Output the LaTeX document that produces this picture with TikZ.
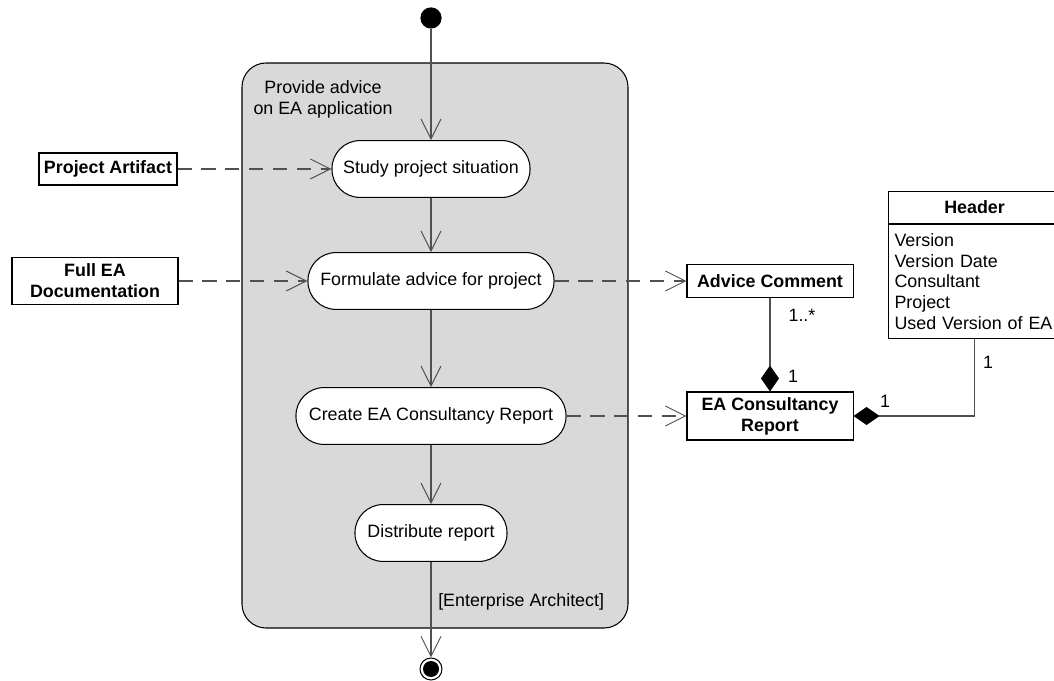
\documentclass[tikz,border=0pt]{standalone}
\usepackage{fontspec}
\setmainfont{Liberation Sans}
\usetikzlibrary{arrows.meta}
\definecolor{regiongray}{RGB}{217,217,217}
\definecolor{linegray}{RGB}{80,80,80}
\tikzset{
  txt/.style={font=\fontsize{12.7}{15}\selectfont},
  action/.style={txt, draw, line width=0.75pt, fill=white, rounded corners=0.7cm, minimum height=1.42cm, inner sep=0pt},
  object/.style={draw, line width=0.75pt, fill=white, font=\fontsize{12.7}{15}\selectfont\bfseries, align=center, inner sep=0pt},
  initial/.style={circle, fill=black, minimum size=0.53cm, inner sep=0pt},
  final/.style={circle, draw, line width=0.75pt, fill=white, minimum size=0.55cm, inner sep=0pt,
    path picture={\fill[black] (path picture bounding box.center) circle (0.2cm);}},
  flow/.style={draw=linegray, line width=0.75pt, -{Straight Barb[length=0.5cm,width=0.5cm,line width=0.7pt]}},
  objflow/.style={flow, dash pattern=on 10pt off 7pt},
  compose/.style={draw=linegray, line width=0.75pt, -{Diamond[length=0.65cm,width=0.45cm,fill=black,color=black]}},
  mult/.style={txt, inner sep=0pt},
}
\begin{document}
\begin{tikzpicture}[x=0.025cm, y=-0.025cm]
\useasboundingbox (0,0) rectangle (1054,681);
\clip (0,0) rectangle (1054,681);
% activity region
\draw[fill=regiongray, line width=0.75pt, rounded corners=0.6cm] (242,63) rectangle (628,628);
\node[txt, align=center] (title) at (323,99) {Provide advice\\on EA application};
\node[txt, anchor=east] (swim) at (609,602) {[Enterprise Architect]};
% start and end
\node[initial] (start) at (431,18) {};
\node[final] (end) at (431,669) {};
% actions
\node[action, minimum width=4.95cm] (study) at (431,169) {Study project situation};
\node[action, minimum width=6.15cm] (formulate) at (431,281) {Formulate advice for project};
\node[action, minimum width=6.75cm] (create) at (431,416) {Create EA Consultancy Report};
\node[action, minimum width=3.8cm] (distribute) at (431,533) {Distribute report};
% objects
\node[object, minimum width=3.45cm, minimum height=0.8cm] (artifact) at (108,169) {Project Artifact};
\node[object, minimum width=4.15cm, minimum height=1.18cm] (fullea) at (95,281) {Full EA\\Documentation};
\node[object, minimum width=4.15cm, minimum height=0.82cm] (advice) at (770,281) {Advice Comment};
\node[object, minimum width=4.15cm, minimum height=1.2cm] (report) at (770,416) {EA Consultancy\\Report};
% header class
\node[object, minimum width=4.3cm, minimum height=0.8cm, anchor=north west] (header) at (888,191) {Header};
\node[draw, line width=0.75pt, fill=white, anchor=north west, font=\fontsize{12.7}{14.7}\selectfont,
  align=left, text width=4.0cm, inner xsep=0.15cm, minimum height=2.85cm] (attrs) at (header.south west)
  {Version\\Version Date\\Consultant\\Project\\Used Version of EA};
% control flow
\draw[flow] (start) -- (study);
\draw[flow] (study) -- (formulate);
\draw[flow] (formulate) -- (create);
\draw[flow] (create) -- (distribute);
\draw[flow] (distribute) -- (end);
% object flow
\draw[objflow] (artifact) -- (study);
\draw[objflow] (fullea) -- (formulate);
\draw[objflow] (formulate) -- (advice);
\draw[objflow] (create) -- (report);
% composition
\draw[compose] (advice) -- (report);
\draw[compose] (attrs.south) |- (report.east);
\node[mult] (m1) at (802,315) {1..*};
\node[mult] (m2) at (793,376) {1};
\node[mult] (m3) at (885,401) {1};
\node[mult] (m4) at (988,362) {1};
\end{tikzpicture}
\end{document}
